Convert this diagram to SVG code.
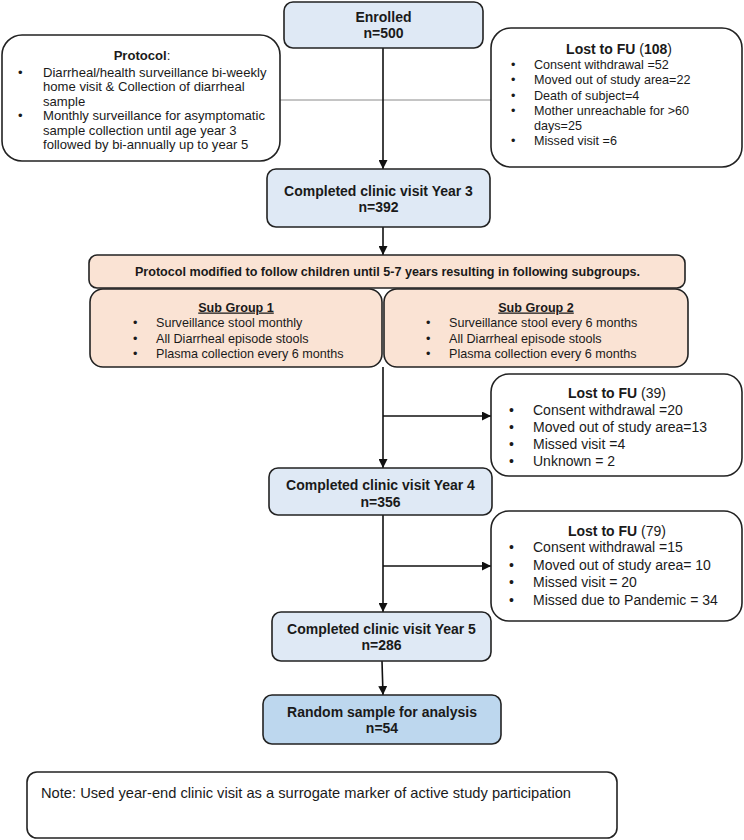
<svg xmlns="http://www.w3.org/2000/svg" width="744" height="840" viewBox="0 0 744 840">
<defs>
<marker id="ah" viewBox="0 0 10 10" refX="10" refY="5" markerWidth="9" markerHeight="9" markerUnits="userSpaceOnUse" orient="auto">
<path d="M0,0 L10,5 L0,10 z" fill="#111"/>
</marker>
<style>
text{font-family:"Liberation Sans",Arial,sans-serif;fill:#1a1a1a}
.b{font-weight:bold}
.t14{font-size:14px}
.t13{font-size:13.1px}
.t12{font-size:12.6px}
.box{stroke:#222;stroke-width:1.6}
.blue{fill:#dfe9f5}
.dblue{fill:#bdd7ee}
.peach{fill:#fae3d4}
.white{fill:#fff}
.c{text-anchor:middle}
.conn{stroke:#111;stroke-width:1.6;fill:none}
</style>
</defs>
<rect width="744" height="840" fill="#fff"/>

<g id="connectors">
<line x1="280" y1="100" x2="491" y2="100" stroke="#8a8a8a" stroke-width="1"/>
<line class="conn" x1="383" y1="48" x2="383" y2="169" marker-end="url(#ah)"/>
<line class="conn" x1="383" y1="227" x2="383" y2="255" marker-end="url(#ah)"/>
<line class="conn" x1="383" y1="367" x2="383" y2="468" marker-end="url(#ah)"/>
<line class="conn" x1="383" y1="416" x2="491" y2="416" marker-end="url(#ah)"/>
<line class="conn" x1="383" y1="515" x2="383" y2="612" marker-end="url(#ah)"/>
<line class="conn" x1="383" y1="566" x2="491" y2="566" marker-end="url(#ah)"/>
<line class="conn" x1="382" y1="661" x2="383" y2="695" marker-end="url(#ah)"/>
</g>

<g id="enrolled">
<rect class="box blue" x="284" y="2" width="199" height="46" rx="9"/>
<text class="b t14 c" x="383.5" y="22">Enrolled</text>
<text class="b t14 c" x="383.5" y="38">n=500</text>
</g>

<g id="protocol">
<rect class="box white" x="2" y="35" width="278" height="126" rx="20"/>
<text class="t13 c" x="142" y="59.5"><tspan class="b">Protocol</tspan>:</text>
<text class="t13" x="18" y="76.7">•</text>
<text class="t13" x="43" y="76.7">Diarrheal/health surveillance bi-weekly</text>
<text class="t13" x="43" y="91">home visit &amp; Collection of diarrheal</text>
<text class="t13" x="43" y="105.5">sample</text>
<text class="t13" x="18" y="120">•</text>
<text class="t13" x="43" y="120">Monthly surveillance for asymptomatic</text>
<text class="t13" x="43" y="134.5">sample collection until age year 3</text>
<text class="t13" x="43" y="149">followed by bi-annually up to year 5</text>
</g>

<g id="lost108">
<rect class="box white" x="491" y="28" width="251" height="139" rx="20"/>
<text class="t14 c" x="619" y="54"><tspan class="b">Lost to FU</tspan> (<tspan class="b">108</tspan>)</text>
<text class="t12" x="511" y="68.5">•</text>
<text class="t12" x="534" y="68.5">Consent withdrawal =52</text>
<text class="t12" x="511" y="84">•</text>
<text class="t12" x="534" y="84">Moved out of study area=22</text>
<text class="t12" x="511" y="99.5">•</text>
<text class="t12" x="534" y="99.5">Death of subject=4</text>
<text class="t12" x="511" y="114.5">•</text>
<text class="t12" x="534" y="114.5">Mother unreachable for &gt;60</text>
<text class="t12" x="534" y="129.5">days=25</text>
<text class="t12" x="511" y="144.5">•</text>
<text class="t12" x="534" y="144.5">Missed visit =6</text>
</g>

<g id="year3">
<rect class="box blue" x="267" y="169" width="223" height="58" rx="9"/>
<text class="b t14 c" x="378.5" y="196">Completed clinic visit Year 3</text>
<text class="b t14 c" x="378.5" y="212">n=392</text>
</g>

<g id="modified">
<rect class="box peach" x="89" y="255" width="596" height="33" rx="8"/>
<text class="b t12 c" x="387.5" y="276">Protocol modified to follow children until 5-7 years resulting in following subgroups.</text>
</g>

<g id="subgroup1">
<rect class="box peach" x="90" y="289" width="292" height="78" rx="13"/>
<text class="b t12 c" x="236" y="311.5" text-decoration="underline">Sub Group 1</text>
<text class="t12" x="133" y="326.5">•</text>
<text class="t12" x="156" y="326.5">Surveillance stool monthly</text>
<text class="t12" x="133" y="342.5">•</text>
<text class="t12" x="156" y="342.5">All Diarrheal episode stools</text>
<text class="t12" x="133" y="357.5">•</text>
<text class="t12" x="156" y="357.5">Plasma collection every 6 months</text>
</g>

<g id="subgroup2">
<rect class="box peach" x="384" y="289" width="304" height="78" rx="13"/>
<text class="b t12 c" x="536" y="311.5" text-decoration="underline">Sub Group 2</text>
<text class="t12" x="426" y="326.5">•</text>
<text class="t12" x="449" y="326.5">Surveillance stool every 6 months</text>
<text class="t12" x="426" y="342.5">•</text>
<text class="t12" x="449" y="342.5">All Diarrheal episode stools</text>
<text class="t12" x="426" y="357.5">•</text>
<text class="t12" x="449" y="357.5">Plasma collection every 6 months</text>
</g>

<g id="lost39">
<rect class="box white" x="491" y="374" width="251" height="102" rx="18"/>
<text class="t14 c" x="617" y="398"><tspan class="b">Lost to FU</tspan> (39)</text>
<text class="t14" x="509" y="415">•</text>
<text class="t14" x="533" y="415">Consent withdrawal =20</text>
<text class="t14" x="509" y="432">•</text>
<text class="t14" x="533" y="432">Moved out of study area=13</text>
<text class="t14" x="509" y="449">•</text>
<text class="t14" x="533" y="449">Missed visit =4</text>
<text class="t14" x="509" y="466">•</text>
<text class="t14" x="533" y="466">Unknown = 2</text>
</g>

<g id="year4">
<rect class="box blue" x="269" y="468" width="223" height="47" rx="9"/>
<text class="b t14 c" x="380.5" y="490">Completed clinic visit Year 4</text>
<text class="b t14 c" x="380.5" y="507">n=356</text>
</g>

<g id="lost79">
<rect class="box white" x="491" y="511" width="251" height="110" rx="18"/>
<text class="t14 c" x="617" y="536"><tspan class="b">Lost to FU</tspan> (79)</text>
<text class="t14" x="509" y="552">•</text>
<text class="t14" x="533" y="552">Consent withdrawal =15</text>
<text class="t14" x="509" y="569.5">•</text>
<text class="t14" x="533" y="569.5">Moved out of study area= 10</text>
<text class="t14" x="509" y="587">•</text>
<text class="t14" x="533" y="587">Missed visit = 20</text>
<text class="t14" x="509" y="604.5">•</text>
<text class="t14" x="533" y="604.5">Missed due to Pandemic = 34</text>
</g>

<g id="year5">
<rect class="box blue" x="272" y="612" width="219" height="49" rx="9"/>
<text class="b t14 c" x="381.5" y="634">Completed clinic visit Year 5</text>
<text class="b t14 c" x="381.5" y="650">n=286</text>
</g>

<g id="random">
<rect class="box dblue" x="263" y="695" width="238" height="49" rx="9"/>
<text class="b t14 c" x="382" y="717">Random sample for analysis</text>
<text class="b t14 c" x="382" y="733">n=54</text>
</g>

<g id="note">
<rect class="box white" x="27" y="772" width="590" height="66" rx="10"/>
<text x="41" y="798" style="font-size:14.5px" textLength="530" lengthAdjust="spacingAndGlyphs">Note: Used year-end clinic visit as a surrogate marker of active study participation</text>
</g>
</svg>
